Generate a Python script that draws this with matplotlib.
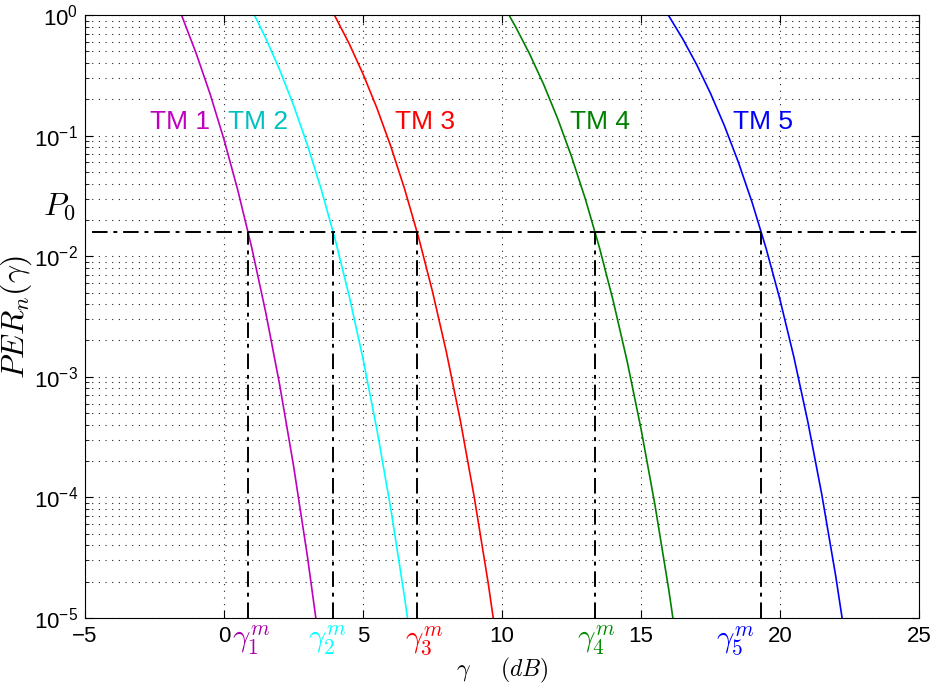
import numpy as np
import matplotlib
matplotlib.use("Agg")
import matplotlib.pyplot as plt
from matplotlib.ticker import LogLocator, FixedLocator

plt.rcParams['font.family'] = ['Liberation Sans', 'DejaVu Sans']
plt.rcParams['mathtext.fontset'] = 'cm'

# PER curves (gamma in dB, PER)
tm1_db = [-5.0, -1.53, -1.0, -0.5, 0.0, 0.5, 1.0, 1.5, 2.0, 2.5, 3.0, 3.5]
tm1_per = [1.0, 1.0, 0.480, 0.2212, 0.0928, 0.0350, 0.01171, 3.43e-3, 8.65e-4, 1.84e-4, 3.25e-5, 4.65e-6]

tm2_db = [-5.0, 1.09, 1.5, 2.0, 2.5, 3.0, 3.5, 4.0, 4.5, 5.0, 5.5, 6.0, 6.5, 7.0]
tm2_per = [1.0, 1.0, 0.6435, 0.3520, 0.1789, 0.0837, 0.03571, 0.01373, 4.70e-3, 1.41e-3, 3.65e-4, 8.03e-5, 1.46e-5, 2.17e-6]

tm3_db = [-5.0, 3.97, 4.5, 5.0, 5.5, 6.0, 6.5, 7.0, 7.5, 8.0, 8.5, 9.0, 9.5, 10.0]
tm3_per = [1.0, 1.0, 0.5802, 0.3247, 0.1692, 0.08148, 0.03589, 0.01430, 5.09e-3, 1.60e-3, 4.36e-4, 1.01e-4, 1.97e-5, 3.15e-6]

tm4_db = [-5.0, 10.25, 10.5, 11.0, 11.5, 12.0, 12.5, 13.0, 13.5, 14.0, 14.5, 15.0, 15.5, 16.0, 16.5]
tm4_per = [1.0, 1.0, 0.7894, 0.4720, 0.2651, 0.1388, 0.06711, 0.02971, 0.01191, 4.26e-3, 1.35e-3, 3.71e-4, 8.71e-5, 1.71e-5, 2.76e-6]

tm5_db = [-5.0, 15.98, 16.5, 17.0, 17.5, 18.0, 18.5, 19.0, 19.5, 20.0, 20.5, 21.0, 21.5, 22.0, 22.5]
tm5_per = [1.0, 1.0, 0.6347, 0.3886, 0.2241, 0.1208, 0.06043, 0.02778, 0.01161, 4.36e-3, 1.455e-3, 4.25e-4, 1.067e-4, 2.26e-5, 3.96e-6]

p0 = 0.016
thresholds = [0.86, 3.92, 6.94, 13.34, 19.32]
tm_names = ['TM 1', 'TM 2', 'TM 3', 'TM 4', 'TM 5']

line_colors = [(0.75, 0, 0.75), (0, 1, 1), (1, 0, 0), (0, 0.5, 0), (0, 0, 1)]
text_colors = [(0.75, 0, 0.75), (0, 0.75, 0.75), (1, 0, 0), (0, 0.5, 0), (0, 0, 1)]
gam_colors = [(0.65, 0, 0.65), (0, 1, 1), (1, 0, 0), (0, 0.55, 0), (0, 0, 1)]

fig = plt.figure(figsize=(9.36, 6.84), dpi=100)
ax = fig.add_axes([85 / 936, 1 - 618 / 684, 834 / 936, 603 / 684])

curves = [(tm1_db, tm1_per), (tm2_db, tm2_per), (tm3_db, tm3_per),
          (tm4_db, tm4_per), (tm5_db, tm5_per)]
for (x, y), c in zip(curves, line_colors):
    ax.semilogy(x, y, color=c, lw=1.2)

# P0 level and the thresholds under it
dd = [8, 3, 2, 3]
ax.plot([-4.75, 25], [p0, p0], color='k', lw=1.4, dashes=dd)
for t in thresholds:
    ax.plot([t, t], [1e-5, p0], color='k', lw=1.4, dashes=dd)

ax.set_xlim(-5, 25)
ax.set_ylim(1e-5, 1)
ax.xaxis.set_major_locator(FixedLocator([-5, 0, 5, 10, 15, 20, 25]))
ax.yaxis.set_major_locator(LogLocator(base=10, numticks=10))
ax.yaxis.set_minor_locator(LogLocator(base=10, subs=np.arange(2, 10), numticks=10))

ax.grid(True, which='major', axis='both', linestyle=(0, (1, 5)), color='0.15', lw=0.8)
ax.grid(True, which='minor', axis='y', linestyle=(0, (1, 5)), color='0.15', lw=0.8)
ax.tick_params(which='both', direction='in', top=True, right=True, labelsize=16)
ax.tick_params(which='major', length=6)
ax.tick_params(which='minor', length=3)
ax.tick_params(axis='x', pad=6)
ax.tick_params(axis='y', pad=5)

# TM labels
tm_pos = [(-2.66, 0.13), (0.14, 0.13), (6.15, 0.13), (12.45, 0.13), (18.3, 0.13)]
for name, (x, y), c in zip(tm_names, tm_pos, text_colors):
    ax.text(x, y, name, color=c, fontsize=19, va='center', ha='left')

ax.text(-6.5, 0.026, r'$P_0$', fontsize=23, va='center', ha='left', clip_on=False)

gam_x = [0.97, 3.7, 7.2, 13.38, 18.4]
for i, gx in enumerate(gam_x):
    ax.annotate(r'$\gamma_{%d}^{m}$' % (i + 1), xy=(gx, 0), xycoords=('data', 'axes fraction'),
                xytext=(0, -4), textcoords='offset points', ha='center', va='top',
                fontsize=22, color=gam_colors[i])

ax.set_ylabel(r'$PER_n(\gamma)$', fontsize=23, labelpad=0)
ax.set_xlabel(r'$\gamma \quad\;\; (dB)$', fontsize=17, labelpad=6)

fig.savefig('out.png', dpi=100)
